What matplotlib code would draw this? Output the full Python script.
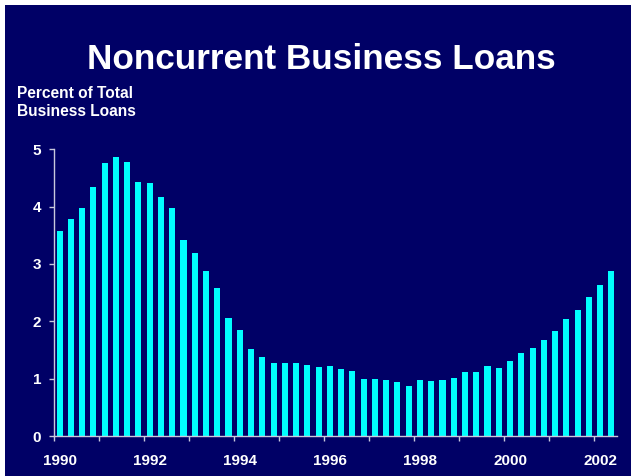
import matplotlib.pyplot as plt
from matplotlib.patches import Rectangle

plt.rcParams['font.family'] = ['Liberation Sans', 'DejaVu Sans']
plt.rcParams['font.weight'] = 'bold'

# Noncurrent rate, quarterly, 1990 Q1 - 2002 Q2
noncurrent_pct = [
    3.58, 3.78, 3.97, 4.34, 4.76, 4.86, 4.77, 4.43,
    4.42, 4.17, 3.97, 3.41, 3.20, 2.88, 2.58, 2.05,
    1.85, 1.52, 1.38, 1.28, 1.28, 1.27, 1.24, 1.20,
    1.22, 1.16, 1.13, 0.99, 0.99, 0.97, 0.95, 0.88,
    0.98, 0.96, 0.97, 1.01, 1.12, 1.12, 1.22, 1.19,
    1.30, 1.44, 1.53, 1.67, 1.83, 2.04, 2.19, 2.42,
    2.63, 2.88,
]
year_labels = ['1990', '1992', '1994', '1996', '1998', '2000', '2002']
y_ticks = [0, 1, 2, 3, 4, 5]

navy = '#000066'
cyan = '#00ffff'
axis_col = '#c8c8dc'

W, H = 631, 476
fig = plt.figure(figsize=(W / 100, H / 100), dpi=100)
fig.patch.set_facecolor('white')
# navy slide background with a thin white margin top/left
fig.patches.append(Rectangle((5 / W, 0), 1, (H - 5) / H, transform=fig.transFigure,
                             facecolor=navy, edgecolor='none', zorder=0))

ax = fig.add_axes([54 / W, 40 / H, 563 / W, 286.7 / H])
ax.set_facecolor('none')
ax.set_zorder(2)

xpos = [i + 0.5 for i in range(len(noncurrent_pct))]
ax.bar(xpos, noncurrent_pct, width=0.54, color=cyan, edgecolor='none', zorder=2)

ax.set_xlim(0, len(noncurrent_pct))
ax.set_ylim(0, 5)

for side in ['top', 'right']:
    ax.spines[side].set_visible(False)
for side in ['left', 'bottom']:
    ax.spines[side].set_color(axis_col)
    ax.spines[side].set_linewidth(1.0)

ax.set_yticks(y_ticks)
ax.set_yticklabels([str(v) for v in y_ticks])
ax.tick_params(axis='y', colors=axis_col, length=3.6, width=1.0, pad=5.5,
               labelsize=11, labelcolor='white')

# labels under the first quarter of each even year, marks at year boundaries
ax.set_xticks([i * 8 + 0.5 for i in range(len(year_labels))])
ax.set_xticklabels(year_labels)
ax.set_xticks(range(0, len(noncurrent_pct), 4), minor=True)
ax.tick_params(axis='x', which='major', length=0, pad=13, labelsize=11,
               labelcolor='white')
ax.tick_params(axis='x', which='minor', colors=axis_col, length=3.6, width=1.0)
for lab in ax.get_xticklabels() + ax.get_yticklabels():
    lab.set_fontweight('bold')

fig.text(321.5 / W, (H - 69) / H, 'Noncurrent Business Loans', color='white',
         fontsize=25.3, fontweight='bold', ha='center', va='baseline')
fig.text(17 / W, (H - 98) / H, 'Percent of Total', color='white',
         fontsize=11.2, fontweight='bold', ha='left', va='baseline')
fig.text(17 / W, (H - 116) / H, 'Business Loans', color='white',
         fontsize=11.2, fontweight='bold', ha='left', va='baseline')

fig.savefig('out.png', dpi=100, facecolor=fig.get_facecolor())
